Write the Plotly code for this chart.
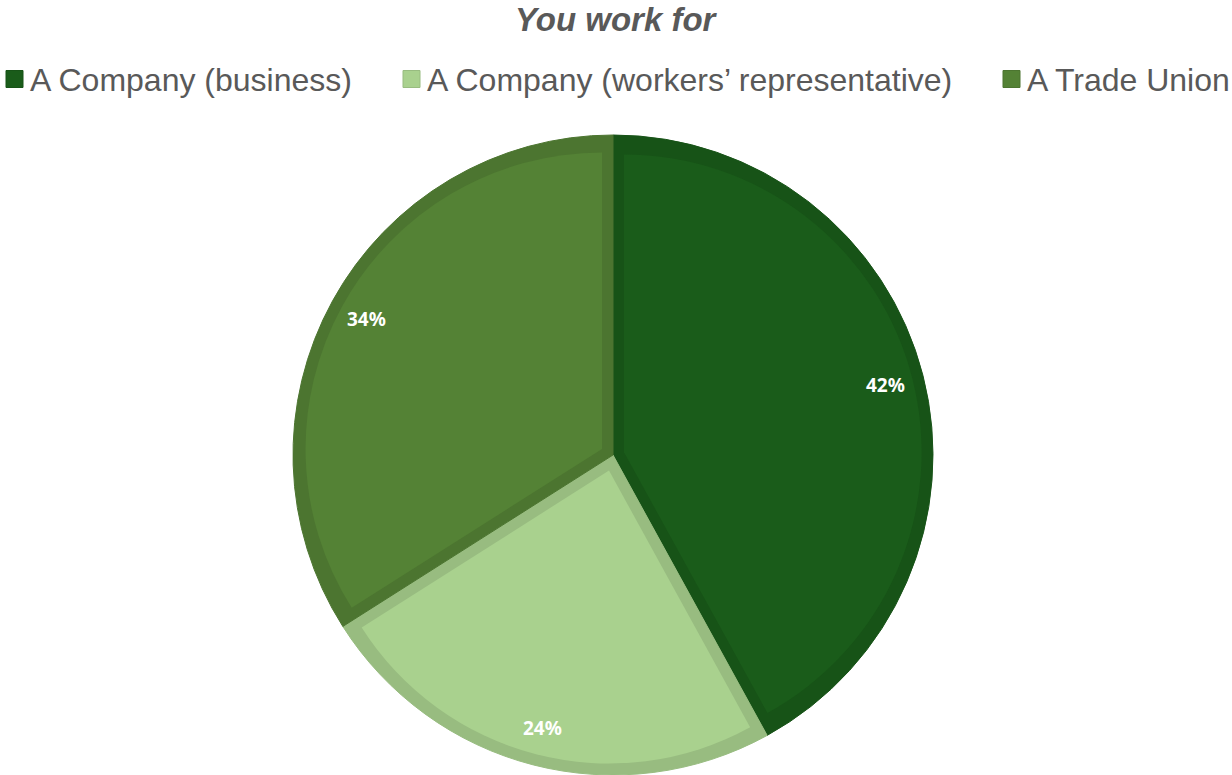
import math
import plotly.graph_objects as go

# Survey answers: "You work for"
categories = ["A Company (business)", "A Company (workers’ representative)", "A Trade Union"]
shares = [42, 24, 34]
fill_colors = ["#1A5C1A", "#A9D18E", "#548235"]
edge_colors = ["#175317", "#98BC80", "#4C7530"]

W, H = 1232, 775
CX, CY = 613, 455          # pie centre in pixels (from top-left)
R = 320                    # outer radius in pixels
BAND = 11                  # width of the darker inner edge of each slice
LABEL_FRAC = 0.88          # data labels sit near the rim, on the bisector

TEXT_GREY = "#595959"
SANS = "Liberation Sans, Arial, sans-serif"


def square_domain(half):
    return dict(
        x=[(CX - half) / W, (CX + half) / W],
        y=[(H - CY - half) / H, (H - CY + half) / H],
    )


total = sum(shares)
fig = go.Figure()

# Full pie in the edge colours: what stays visible of it is the inner band
fig.add_trace(go.Pie(
    labels=categories, values=shares, sort=False, direction="clockwise", rotation=0,
    marker=dict(colors=edge_colors, line=dict(color=edge_colors, width=1)),
    textinfo="none", hoverinfo="label+percent", showlegend=False,
    domain=square_domain(R),
))

# Each slice's main fill, inset from its edges by BAND: same wedge pulled
# outward along its bisector with a correspondingly smaller radius
for i, share in enumerate(shares):
    theta = 2 * math.pi * share / total
    shift = BAND / math.sin(theta / 2)
    r_inner = R - BAND - shift
    colors = ["rgba(0,0,0,0)"] * len(shares)
    colors[i] = fill_colors[i]
    pulls = [0.0] * len(shares)
    pulls[i] = shift / r_inner
    fig.add_trace(go.Pie(
        labels=categories, values=shares, sort=False, direction="clockwise", rotation=0,
        marker=dict(colors=colors, line=dict(width=0)),
        pull=pulls, textinfo="none", hoverinfo="skip", showlegend=False,
        domain=square_domain(R - BAND),
    ))

# Percentage labels along each slice's bisector
annotations = []
cum = 0
for share in shares:
    mid = 2 * math.pi * (cum + share / 2) / total
    cum += share
    px = CX + LABEL_FRAC * R * math.sin(mid)
    py = CY - LABEL_FRAC * R * math.cos(mid)
    annotations.append(dict(
        x=px / W, y=(H - py) / H, xref="paper", yref="paper",
        text=f"<b>{share}%</b>", showarrow=False, xanchor="center", yanchor="middle",
        font=dict(family="Noto Sans, Lato, sans-serif", size=19, color="white"),
    ))

# Title
annotations.append(dict(
    x=616.5 / W, y=(H - 20) / H, xref="paper", yref="paper",
    text="<b><i>You work for</i></b>", showarrow=False, xanchor="center", yanchor="middle",
    font=dict(family=SANS, size=33, color=TEXT_GREY),
))

# Legend row across the top
legend_text_x = [30, 427, 1027]
legend_mid_y = 80
square = 17
shapes = []
for name, fc, ec, tx in zip(categories, fill_colors, edge_colors, legend_text_x):
    x1 = tx - 7
    x0 = x1 - square
    shapes.append(dict(
        type="rect", xref="paper", yref="paper",
        x0=x0 / W, x1=x1 / W,
        y0=(H - legend_mid_y - square / 2 + 1) / H, y1=(H - legend_mid_y + square / 2 + 1) / H,
        fillcolor=fc, line=dict(color=ec, width=1),
    ))
    annotations.append(dict(
        x=(tx - 2) / W, y=(H - legend_mid_y) / H, xref="paper", yref="paper",
        text=name, showarrow=False, xanchor="left", yanchor="middle",
        font=dict(family=SANS, size=32, color=TEXT_GREY),
    ))

fig.update_layout(
    width=W, height=H,
    margin=dict(l=0, r=0, t=0, b=0),
    paper_bgcolor="white", plot_bgcolor="white",
    annotations=annotations, shapes=shapes,
    showlegend=False,
)

fig.write_html("out.html")
